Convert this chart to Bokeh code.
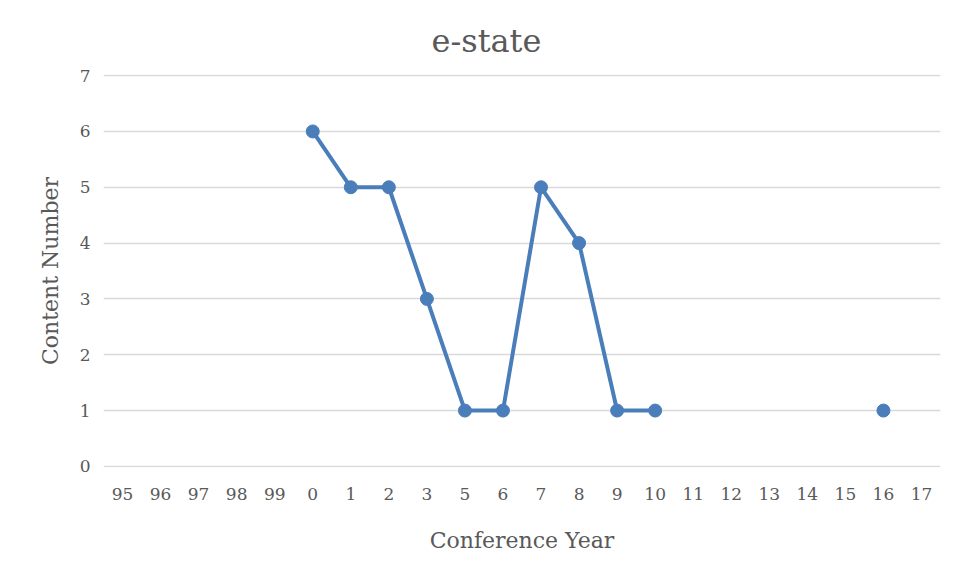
import math
from bokeh.plotting import figure
from bokeh.models import FactorRange, Range1d, ColumnDataSource
from bokeh.embed import file_html
from bokeh.resources import INLINE

years = ["95", "96", "97", "98", "99", "0", "1", "2", "3", "5", "6", "7", "8",
         "9", "10", "11", "12", "13", "14", "15", "16", "17"]
nan = float("nan")
counts = [nan, nan, nan, nan, nan, 6, 5, 5, 3, 1, 1, 5, 4,
          1, 1, nan, nan, nan, nan, nan, 1, nan]
y_ticks = [0, 1, 2, 3, 4, 5, 6, 7]
title_text = "e-state"

FONT = "DejaVu Serif"
GRAY = "#595959"
BLUE = "#4A7EBB"

src = ColumnDataSource(dict(x=years, y=counts))

p = figure(width=949, height=570, x_range=FactorRange(*years), y_range=Range1d(-0.02, 7.02),
           output_backend="svg", toolbar_location=None,
           min_border_left=103, min_border_right=9, min_border_top=74, min_border_bottom=103)

p.title.text = title_text
p.title.align = "left"
p.title.offset = 328
p.title.text_font = FONT
p.title.text_font_size = "32px"
p.title.text_font_style = "normal"
p.title.text_color = GRAY
p.title.standoff = 30

p.line("x", "y", source=src, line_color=BLUE, line_width=4)
p.scatter("x", "y", source=src, size=13, fill_color=BLUE, line_color=BLUE)

p.outline_line_color = None
p.border_fill_color = "white"
p.background_fill_color = "white"

p.xgrid.grid_line_color = None
p.ygrid.grid_line_color = "#d9d9d9"
p.ygrid.grid_line_width = 1.5
p.yaxis.ticker = y_ticks

for ax in (p.xaxis[0], p.yaxis[0]):
    ax.axis_line_color = None
    ax.major_tick_line_color = None
    ax.minor_tick_line_color = None
    ax.major_tick_out = 0
    ax.major_tick_in = 0
    ax.minor_tick_out = 0
    ax.major_label_text_font = FONT
    ax.major_label_text_font_size = "17px"
    ax.major_label_text_color = GRAY
    ax.axis_label_text_font = FONT
    ax.axis_label_text_font_size = "22px"
    ax.axis_label_text_font_style = "normal"
    ax.axis_label_text_color = GRAY

p.xaxis.axis_label = "Conference Year"
p.yaxis.axis_label = "Content Number"
p.xaxis.major_label_standoff = 20
p.yaxis.major_label_standoff = 13
p.xaxis.axis_label_standoff = 25
p.yaxis.axis_label_standoff = 14

open("out.html", "w").write(file_html(p, INLINE))
